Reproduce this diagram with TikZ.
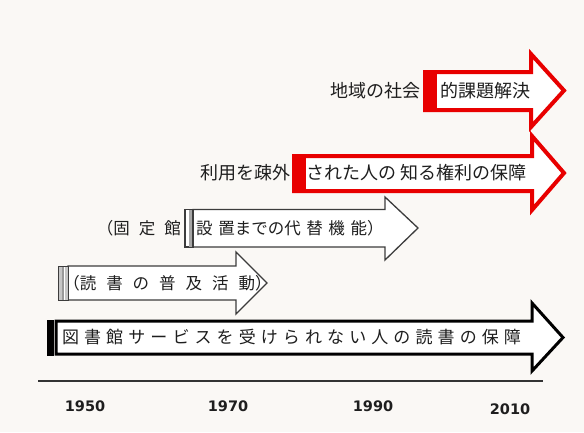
\documentclass[tikz,border=0pt]{standalone}
\usepackage{fontspec}
\newfontfamily\jp{Noto Sans CJK JP}
\newfontfamily\yrfont{DejaVu Sans}
\definecolor{bg}{RGB}{250,248,245}
\definecolor{redline}{RGB}{232,0,0}
\definecolor{ink}{RGB}{30,30,30}
\definecolor{grayline}{RGB}{60,60,60}
\begin{document}
\begin{tikzpicture}[x=1pt,y=-1pt,
  redarrow/.style={draw=redline, line width=4pt, fill=white, line join=miter},
  thinarrow/.style={draw=grayline, line width=1.3pt, fill=white, line join=miter},
  blackarrow/.style={draw=black, line width=3pt, fill=white, line join=miter},
  big/.style={inner sep=0pt, text=ink, font=\jp\fontsize{18}{18}\selectfont},
  mid/.style={inner sep=0pt, text=ink, font=\jp\fontsize{16.5}{16.5}\selectfont},
  yearlbl/.style={inner sep=0pt, text=ink, font=\yrfont\bfseries\fontsize{14.5}{14.5}\selectfont}]
\fill[bg] (0,0) rectangle (584,432);
\useasboundingbox (0,0) rectangle (584,432);

% arrow 1 (red, top)
\draw[redarrow] (425,72) -- (531,72) -- (531,54) -- (564,90.5) -- (531,127) -- (531,110) -- (425,110) -- cycle;
\fill[redline] (423,70) rectangle (437,112);
\node[big, anchor=east] (t1a) at (421,90.5) {地域の社会};
\node[big, anchor=west] (t1b) at (440,90.5) {的課題解決};

% arrow 2 (red)
\draw[redarrow] (294,156) -- (532,156) -- (532,136) -- (564,173) -- (532,210) -- (532,191) -- (294,191) -- cycle;
\fill[redline] (292,154) rectangle (306,193);
\node[big, anchor=east] (t2a) at (291,173) {利用を疎外};
\node[big, anchor=west] (t2b) at (306,173) {された人の 知る権利の保障};

% arrow 3 (thin)
\draw[thinarrow] (193,209.5) -- (385,209.5) -- (385,197) -- (418,228) -- (385,260) -- (385,247) -- (193,247) -- cycle;
\draw[grayline, line width=1.2pt, fill=white] (185,209.5) rectangle (193,247);
\fill[gray!70] (189,210) rectangle (191.5,246.5);
\node[mid, anchor=east] (t3a) at (181,228) {\spaceskip=9pt\relax （固 定 館};
\node[mid, anchor=west] (t3b) at (196,228) {\spaceskip=5.6pt\relax 設 置までの代 替 機 能）};

% arrow 4 (thin)
\draw[thinarrow] (68,266) -- (236,266) -- (236,252) -- (267,283) -- (236,314) -- (236,300) -- (68,300) -- cycle;
\draw[grayline, line width=1pt, fill=gray!45] (58.5,266) rectangle (68,300);
\fill[gray!80] (62,266.5) rectangle (64,299.5);
\fill[white] (64,266.5) rectangle (65.2,299.5);
\node[mid, anchor=center] (t4) at (167.5,283) {\spaceskip=10pt\relax （読 書 の 普 及 活 動）};

% arrow 5 (black, bottom)
\draw[blackarrow] (56,321) -- (532,321) -- (532,303) -- (563,337.5) -- (532,371) -- (532,354) -- (56,354) -- cycle;
\fill[black] (46.5,319.5) rectangle (53.5,355.5);
\node[inner sep=0pt, text=ink, font=\jp\fontsize{17}{17}\selectfont, anchor=center] (t5) at (291.5,337.5) {\spaceskip=5.1pt\relax 図 書 館 サ ー ビ ス を 受 け ら れ な い 人 の 読 書 の 保 障};

% axis
\coordinate (axl) at (38,381);
\coordinate (axr) at (543,381);
\draw[line width=1.2pt, draw=black!80] (axl) -- (axr);
\node[yearlbl] (y1950) at (85,406) {1950};
\node[yearlbl] (y1970) at (228,406) {1970};
\node[yearlbl] (y1990) at (373,406) {1990};
\node[yearlbl] (y2010) at (510,409) {2010};
\end{tikzpicture}
\end{document}
